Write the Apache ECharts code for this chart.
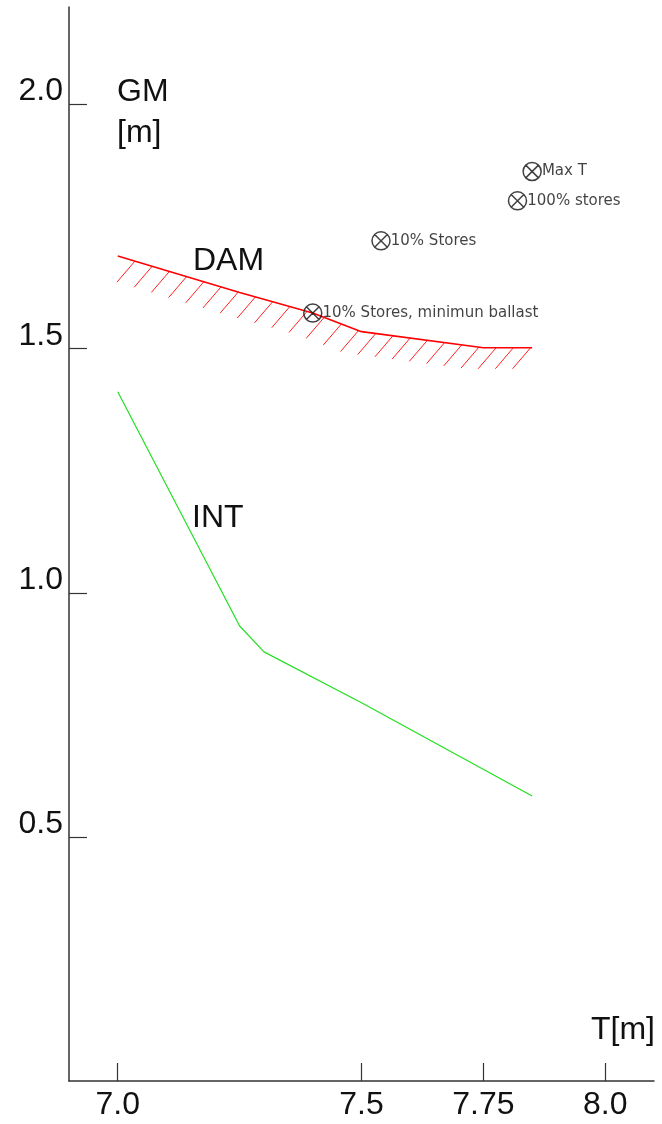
<!DOCTYPE html>
<html>
<head>
<meta charset="utf-8">
<script src="https://cdn.jsdelivr.net/npm/echarts@6/dist/echarts.min.js"></script>
<style>
html, body { margin: 0; padding: 0; background: #fff; }
#chart { width: 662px; height: 1124px; }
</style>
</head>
<body>
<div id="chart"></div>
<script>
// DAM limit curve
var damT = [7.0, 7.25, 7.4, 7.5, 7.75, 7.85];
var damGM = [1.69, 1.615, 1.573, 1.535, 1.502, 1.502];

// INT limit curve
var intT = [7.0, 7.25, 7.3, 7.5, 7.85];
var intGM = [1.412, 0.932, 0.879, 0.775, 0.584];

// loading conditions
var condNames = ['Max T', '100% stores', '10% Stores', '10% Stores, minimun ballast'];
var condT = [7.85, 7.82, 7.54, 7.4];
var condGM = [1.863, 1.803, 1.721, 1.573];

// axis ticks
var xTicks = [7.0, 7.5, 7.75, 8.0];
var xTickLabels = ['7.0', '7.5', '7.75', '8.0'];
var yTicks = [0.5, 1.0, 1.5, 2.0];
var yTickLabels = ['0.5', '1.0', '1.5', '2.0'];

var FONT = '"Liberation Sans", Arial, sans-serif';
var SMALL_FONT = '"DejaVu Sans", sans-serif';
var hatchStep = 17.2;

function pairs(xs, ys) {
	return xs.map(function(x, i) { return [x, ys[i]]; });
}

function renderHatch(params, api) {
	var i = params.dataIndex;
	var n = damT.length;
	if (i >= n - 1) return null;
	var p0 = api.coord([damT[0], damGM[0]]);
	var a = api.coord([damT[i], damGM[i]]);
	var b = api.coord([damT[i + 1], damGM[i + 1]]);
	var children = [];
	for (var k = 1; k < 200; k++) {
		var x = p0[0] + k * hatchStep;
		if (x < a[0]) continue;
		if (x > b[0] + 0.5) break;
		if (x >= b[0] && i < n - 2) break;
		var y = a[1] + (x - a[0]) / (b[0] - a[0]) * (b[1] - a[1]);
		children.push({
			type: 'line',
			shape: { x1: x, y1: y, x2: x - 18, y2: y + 21 },
			style: { stroke: '#ff2020', lineWidth: 1 }
		});
	}
	return { type: 'group', children: children };
}

function bigText(str, x, y) {
	return {
		type: 'text',
		style: { text: str, x: x, y: y, font: '32px ' + FONT, fill: '#111', textAlign: 'left', textVerticalAlign: 'middle' }
	};
}

var crossCircle = 'path://M0,-10 A10,10 0 1,1 0,10 A10,10 0 1,1 0,-10 Z M-7.07,-7.07 L7.07,7.07 M7.07,-7.07 L-7.07,7.07';

var myChart = echarts.init(document.getElementById('chart'));
var option = {
	animation: false,
	backgroundColor: '#fff',
	grid: { left: 69, right: 8, top: 7, bottom: 43 },
	xAxis: {
		type: 'value',
		min: 6.9,
		max: 8.1,
		splitLine: { show: false },
		axisLine: { onZero: false, lineStyle: { color: '#333', width: 1.5 } },
		axisTick: { inside: true, length: 18, customValues: xTicks, lineStyle: { color: '#333', width: 1.2 } },
		axisLabel: {
			customValues: xTicks,
			margin: 8,
			fontSize: 32,
			fontFamily: FONT,
			color: '#111',
			formatter: function(v) {
				var idx = xTicks.indexOf(v);
				return idx >= 0 ? xTickLabels[idx] : '';
			}
		}
	},
	yAxis: {
		type: 'value',
		min: 0,
		max: 2.2,
		splitLine: { show: false },
		axisLine: { onZero: false, lineStyle: { color: '#333', width: 1.5 } },
		axisTick: { inside: true, length: 18, customValues: yTicks, lineStyle: { color: '#333', width: 1.2 } },
		axisLabel: {
			customValues: yTicks,
			margin: 6,
			fontSize: 32,
			lineHeight: 26,
			fontFamily: FONT,
			color: '#111',
			verticalAlign: 'bottom',
			formatter: function(v) {
				var idx = yTicks.indexOf(v);
				return idx >= 0 ? yTickLabels[idx] : '';
			}
		}
	},
	graphic: [
		bigText('GM', 117, 92),
		bigText('[m]', 117, 133),
		bigText('DAM', 193, 261),
		bigText('INT', 192, 518),
		bigText('T[m]', 591, 1030)
	],
	series: [
		{
			name: 'DAM hatch',
			type: 'custom',
			renderItem: renderHatch,
			data: pairs(damT, damGM),
			encode: { x: 0, y: 1 },
			silent: true,
			z: 1
		},
		{
			name: 'DAM',
			type: 'line',
			data: pairs(damT, damGM),
			symbol: 'none',
			lineStyle: { color: '#ff0000', width: 1.6 },
			z: 2
		},
		{
			name: 'INT',
			type: 'line',
			data: pairs(intT, intGM),
			symbol: 'none',
			lineStyle: { color: '#22e022', width: 1.2 },
			z: 2
		},
		{
			name: 'Conditions',
			type: 'scatter',
			data: condT.map(function(t, i) { return { name: condNames[i], value: [t, condGM[i]] }; }),
			symbol: crossCircle,
			symbolSize: 18,
			itemStyle: { color: 'rgba(255,255,255,0)', borderColor: '#111', borderWidth: 1.5 },
			label: {
				show: true,
				position: 'right',
				distance: 0,
				formatter: '{b}',
				fontSize: 15,
				fontFamily: SMALL_FONT,
				color: '#111'
			},
			z: 5
		}
	]
};
if (option && typeof option === 'object') {
	myChart.setOption(option, true);
}
</script>
</body>
</html>
